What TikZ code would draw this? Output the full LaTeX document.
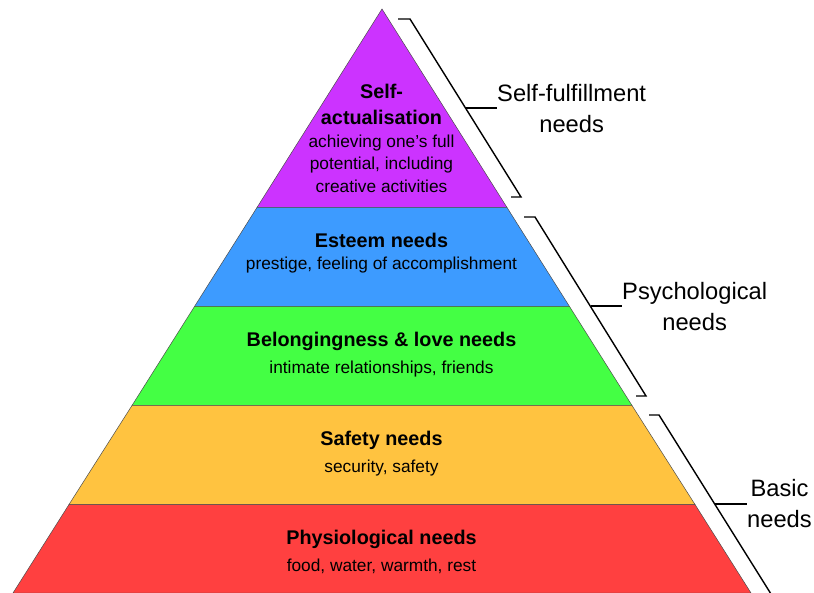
\documentclass[tikz,border=0pt]{standalone}
\usepackage{fontspec}
\setmainfont{Liberation Sans}
\usepackage{tikz}
\usetikzlibrary{positioning}

\tikzset{
    level/.style={draw=black!70,line width=0.5pt},
    title/.style={font=\fontsize{19.8}{26}\selectfont\bfseries,align=center,inner sep=0pt,text=black},
    desc/.style={font=\fontsize{17.3}{22.5}\selectfont,align=center,inner sep=0pt,text=black},
    group/.style={font=\fontsize{23.7}{31}\selectfont,align=center,inner sep=0pt,text=black},
    bracket/.style={draw=black,line width=1.4pt},
    tick/.style={draw=black,line width=1.1pt}
}
\definecolor{selfcol}{HTML}{CC33FF}
\definecolor{esteemcol}{HTML}{3D9BFF}
\definecolor{lovecol}{HTML}{44FF44}
\definecolor{safecol}{HTML}{FFC340}
\definecolor{bodycol}{HTML}{FF4040}

\begin{document}
\begin{tikzpicture}[x=1pt,y=-1pt]
    \useasboundingbox (0,0) rectangle (814,593);
    \begin{scope}
    \clip (0,0) rectangle (814,593);

    % Corners of the layers
        \coordinate (top) at (382,9);
        \coordinate (l1) at (257,207.5);
        \coordinate (r1) at (507,207.5);
        \coordinate (l2) at (194.5,306.5);
        \coordinate (r2) at (569.5,306.5);
        \coordinate (l3) at (132,405.5);
        \coordinate (r3) at (632,405.5);
        \coordinate (l4) at (69,504.5);
        \coordinate (r4) at (695,504.5);
        \coordinate (l5) at (13,593);
        \coordinate (r5) at (751,593);

    % Fill the layers
        \draw[level,fill=selfcol] (top) -- (r1) -- (l1) -- cycle;
        \draw[level,fill=esteemcol] (l1) -- (r1) -- (r2) -- (l2) -- cycle;
        \draw[level,fill=lovecol] (l2) -- (r2) -- (r3) -- (l3) -- cycle;
        \draw[level,fill=safecol] (l3) -- (r3) -- (r4) -- (l4) -- cycle;
        \draw[level,fill=bodycol] (l4) -- (r4) -- (r5) -- (l5) -- cycle;

    % Add the texts
        \node[title] (t1) at (381.5,104.5) {Self-\\actualisation};
        \node[desc,below = 9.5pt of t1] (d1) {achieving one\symbol{39}s full\\potential, including\\creative activities};
        \node[title] (t2) at (381.5,240) {Esteem needs};
        \node[desc,below = 9pt of t2] (d2) {prestige, feeling of accomplishment};
        \node[title] (t3) at (381.5,341) {Belongingness \& love needs};
        \node[desc,below = 10pt of t3] (d3) {intimate relationships, friends};
        \node[title] (t4) at (381.5,440) {Safety needs};
        \node[desc,below = 10pt of t4] (d4) {security, safety};
        \node[title] (t5) at (381.5,539) {Physiological needs};
        \node[desc,below = 10pt of t5] (d5) {food, water, warmth, rest};

    % Add the group labels
        \node[group,anchor=west] (g1) at (497,108.5) {Self-fulfillment\\needs};
        \node[group,anchor=west] (g2) at (622,307) {Psychological\\needs};
        \node[group,anchor=west] (g3) at (747,504) {Basic\\needs};

    % Corners of the brackets
        \coordinate (a1) at (398,19);
        \coordinate (b1) at (410,19);
        \coordinate (c1) at (521,197);
        \coordinate (e1) at (511,197);
        \coordinate (a2) at (524,217);
        \coordinate (b2) at (535,217);
        \coordinate (c2) at (646,396);
        \coordinate (e2) at (636,396);
        \coordinate (a3) at (649,415);
        \coordinate (b3) at (659,415);
        \coordinate (c3) at (771,594);
        \coordinate (e3) at (761,594);
        \coordinate (m1) at (465.5,108);
        \coordinate (m2) at (590.5,306);
        \coordinate (m3) at (715,504);

    % Connect the brackets with their labels
        \draw[bracket] (a1) -- (b1) -- (c1) -- (e1);
        \draw[bracket] (a2) -- (b2) -- (c2) -- (e2);
        \draw[bracket] (a3) -- (b3) -- (c3) -- (e3);
        \draw[tick] (m1) -- (g1.west |- m1);
        \draw[tick] (m2) -- (g2.west |- m2);
        \draw[tick] (m3) -- (g3.west |- m3);
    \end{scope}
\end{tikzpicture}
\end{document}
